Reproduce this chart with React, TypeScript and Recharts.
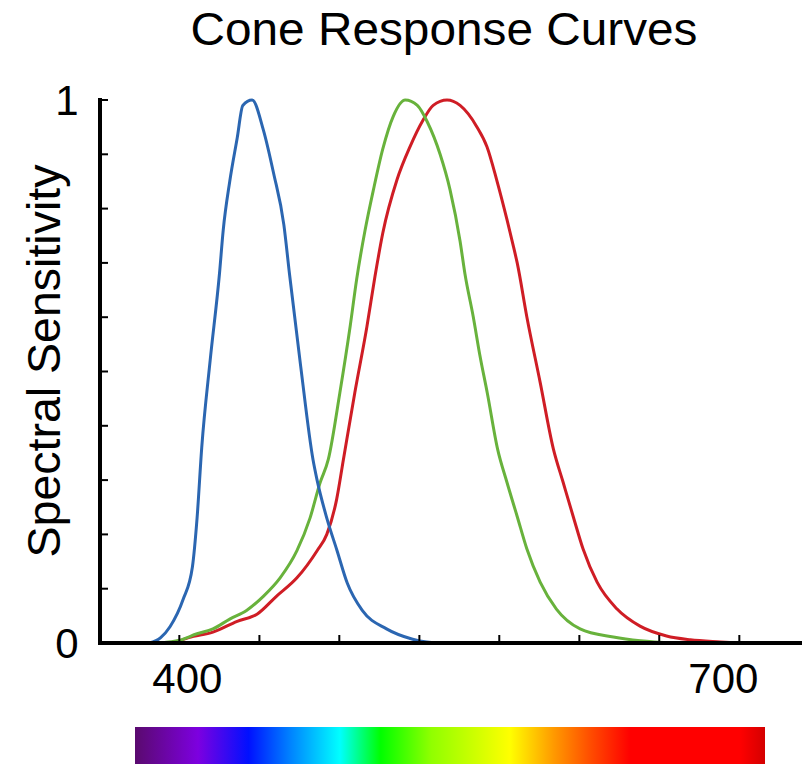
import { LineChart, Line, XAxis, YAxis } from "recharts";

// S cone (blue)
const sWl = [384, 390, 395, 402, 407, 409.5, 412, 416.5, 421.5, 423.5, 427, 431, 434, 439, 445, 450.5, 456, 459, 465, 471.6, 473.8, 479, 484.5, 490, 498, 511, 525, 540, 600, 700];
const sVal = [0, 0.01, 0.03, 0.08, 0.14, 0.23, 0.36, 0.52, 0.68, 0.76, 0.85, 0.93, 0.99, 1.0, 0.945, 0.865, 0.77, 0.68, 0.51, 0.338, 0.3, 0.23, 0.17, 0.11, 0.06, 0.026, 0.007, 0, 0, 0];

// M cone (green)
const mWl = [390, 400, 409.5, 418, 427, 436, 445, 454, 463, 470, 475.4, 479.8, 486, 491.5, 495, 499.5, 504, 509, 514.6, 521, 527.5, 532.8, 539.7, 545, 550.4, 553, 557.5, 561, 565, 570.5, 575.5, 581, 586.2, 593.3, 602, 614.7, 632.5, 647, 665];
const mVal = [0, 0.005, 0.017, 0.026, 0.044, 0.06, 0.086, 0.12, 0.17, 0.23, 0.295, 0.338, 0.461, 0.583, 0.67, 0.76, 0.835, 0.91, 0.97, 1.0, 0.99, 0.96, 0.9, 0.835, 0.74, 0.68, 0.6, 0.53, 0.46, 0.357, 0.296, 0.233, 0.173, 0.112, 0.0625, 0.026, 0.011, 0.004, 0];

// L cone (red)
const lWl = [397, 405, 418, 431, 441.6, 452, 463, 473.8, 479, 484.3, 487.9, 494, 500.5, 504.8, 509, 516.6, 523.6, 530.6, 536, 543.4, 550.4, 559.5, 564.8, 570, 575.5, 579, 581, 586.2, 593.3, 600.4, 605.6, 611, 616.3, 623.8, 634.5, 646.8, 661, 673.7, 690, 700];
const lVal = [0, 0.01, 0.02, 0.04, 0.053, 0.086, 0.12, 0.17, 0.2, 0.265, 0.338, 0.461, 0.583, 0.675, 0.755, 0.853, 0.914, 0.963, 0.99, 1.0, 0.99, 0.95, 0.914, 0.853, 0.78, 0.73, 0.7, 0.6, 0.48, 0.357, 0.296, 0.233, 0.173, 0.112, 0.0625, 0.031, 0.013, 0.006, 0.002, 0];

const xTicks = [400, 442.9, 485.7, 528.6, 571.4, 614.3, 657.1, 700];
const xLabels: Record<number, string> = { 400: "400", 700: "700" };
const yTicks = [0, 0.1, 0.2, 0.3, 0.4, 0.5, 0.6, 0.7, 0.8, 0.9, 1];
const yLabels: Record<number, string> = { 0: "0", 1: "1" };

const spectrum = [
  { offset: 0, color: "#5a0a6e" },
  { offset: 0.1, color: "#7d00e0" },
  { offset: 0.18, color: "#0010ff" },
  { offset: 0.245, color: "#0080ff" },
  { offset: 0.325, color: "#00ffff" },
  { offset: 0.39, color: "#00ff00" },
  { offset: 0.47, color: "#90ff00" },
  { offset: 0.595, color: "#ffff00" },
  { offset: 0.665, color: "#ff9900" },
  { offset: 0.725, color: "#ff4a00" },
  { offset: 0.786, color: "#ff0000" },
  { offset: 0.96, color: "#ff0000" },
  { offset: 1, color: "#d40000" },
];

const toPoints = (wl: number[], val: number[]) => wl.map((w, i) => ({ wl: w, v: val[i] }));

const FONT = '"Liberation Sans", Arial, sans-serif';

function XTick(props: any) {
  const { x, y, payload } = props;
  const label = xLabels[payload.value];
  const dx = payload.value === 400 ? 8 : -16;
  return (
    <g>
      <line x1={x} x2={x} y1={y} y2={y - 8} stroke="#000" strokeWidth={2} />
      {label && (
        <text x={x + dx} y={y + 50} textAnchor="middle" fontSize={42} fontFamily={FONT} fill="#000">
          {label}
        </text>
      )}
    </g>
  );
}

function YTick(props: any) {
  const { x, y, payload } = props;
  const label = yLabels[payload.value];
  return (
    <g>
      <line x1={x} x2={x + 8} y1={y} y2={y} stroke="#000" strokeWidth={2} />
      {label && (
        <text x={x - 33} y={y + 15} textAnchor="middle" fontSize={42} fontFamily={FONT} fill="#000">
          {label}
        </text>
      )}
    </g>
  );
}

export default function App() {
  const axisLine = { stroke: "#000", strokeWidth: 4, strokeLinecap: "square" as const };
  return (
    <div style={{ position: "absolute", left: 0, top: 0, width: 808, height: 764, background: "#fff" }}>
      <LineChart
        width={808}
        height={764}
        margin={{ top: 100, right: 8, bottom: 0, left: 0 }}
      >
        <XAxis
          type="number"
          dataKey="wl"
          domain={[357.5, 732.5]}
          ticks={xTicks}
          allowDataOverflow
          height={121}
          axisLine={axisLine}
          tickLine={false}
          tickSize={0}
          tickMargin={0}
          tick={<XTick />}
          interval={0}
        />
        <YAxis
          type="number"
          dataKey="v"
          domain={[0, 1]}
          ticks={yTicks}
          width={100}
          axisLine={axisLine}
          tickLine={false}
          tickSize={0}
          tickMargin={0}
          tick={<YTick />}
          interval={0}
        />
        <Line data={toPoints(lWl, lVal)} dataKey="v" type="monotone" stroke="#cf1d25" strokeWidth={3} dot={false} activeDot={false} isAnimationActive={false} />
        <Line data={toPoints(mWl, mVal)} dataKey="v" type="monotone" stroke="#68b23c" strokeWidth={3} dot={false} activeDot={false} isAnimationActive={false} />
        <Line data={toPoints(sWl, sVal)} dataKey="v" type="monotone" stroke="#2b66b1" strokeWidth={3} dot={false} activeDot={false} isAnimationActive={false} />
      </LineChart>
      <svg width={808} height={764} style={{ position: "absolute", left: 0, top: 0, pointerEvents: "none" }}>
        <defs>
          <linearGradient id="spectrum" x1="0" y1="0" x2="1" y2="0">
            {spectrum.map((s) => (
              <stop key={s.offset} offset={s.offset} stopColor={s.color} />
            ))}
          </linearGradient>
        </defs>
        <text x={444} y={45} textAnchor="middle" fontSize={46} fontFamily={FONT} fill="#000" textLength={507} lengthAdjust="spacingAndGlyphs">
          Cone Response Curves
        </text>
        <text
          transform="translate(60 361) rotate(-90)"
          textAnchor="middle"
          fontSize={46}
          fontFamily={FONT}
          fill="#000"
          textLength={393}
          lengthAdjust="spacingAndGlyphs"
        >
          Spectral Sensitivity
        </text>
        <rect x={135} y={727} width={630} height={37} fill="url(#spectrum)" />
      </svg>
    </div>
  );
}
